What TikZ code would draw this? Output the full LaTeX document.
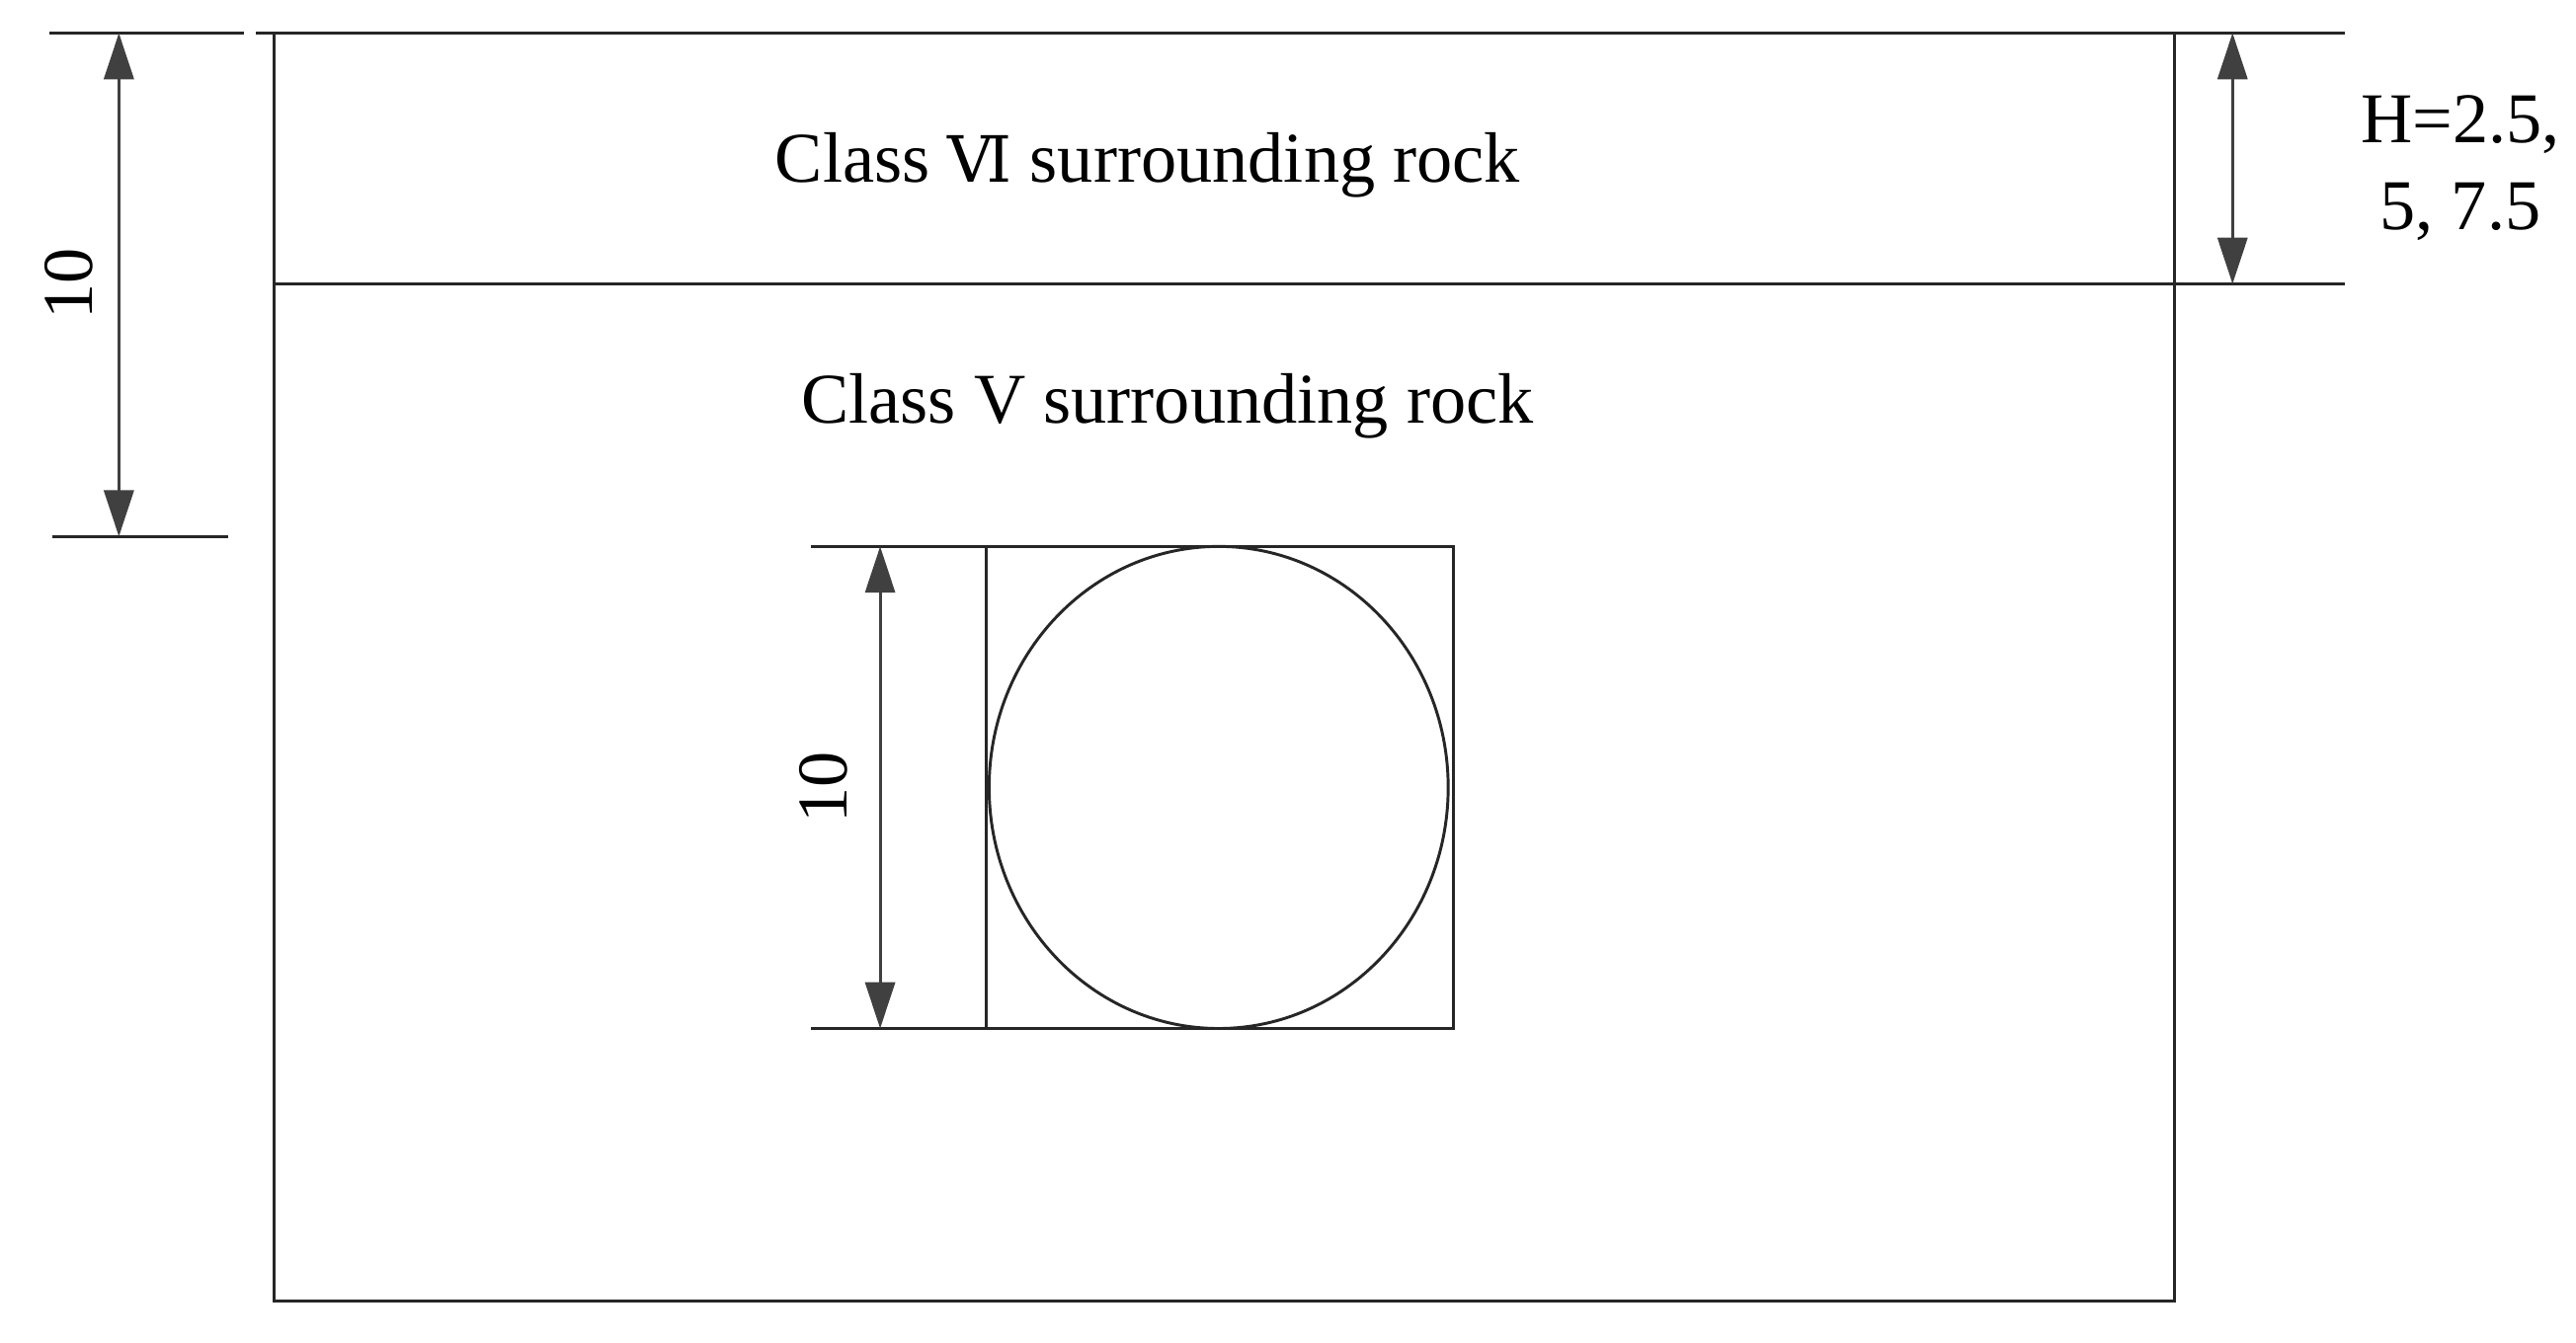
\documentclass[tikz,border=0pt]{standalone}
\usepackage{fontspec}
\setmainfont{Liberation Serif}
\newfontfamily\rmn{DejaVu Serif}
\usetikzlibrary{arrows.meta}
\begin{document}
\begin{tikzpicture}[x=0.01cm,y=-0.01cm,
  ln/.style={line width=0.5pt,draw=black!85},
  dim/.style={line width=0.5pt,draw=black!75,{Triangle[length=0.28cm,width=0.18cm,fill=black!75]}-{Triangle[length=0.28cm,width=0.18cm,fill=black!75]}},
  lab/.style={font=\fontsize{12.3}{15}\selectfont}]
\useasboundingbox (0,0) rectangle (1560,813);
\draw[ln] (166,20) rectangle (1317,788);
\draw[ln] (155,20) -- (1420,20);
\draw[ln] (166,172) -- (1420,172);
\draw[ln] (30,20) -- (148,20);
\draw[ln] (32,325) -- (138,325);
\coordinate (a1) at (72,20); \coordinate (a2) at (72,325);
\draw[dim] (a1) -- (a2);
\node[lab,rotate=90] (l1) at (42,172) {10};
\coordinate (b1) at (1352,20); \coordinate (b2) at (1352,172);
\draw[dim] (b1) -- (b2);
\node[lab,align=center] (h) at (1490,102) {H=2.5,\\5, 7.5};
\node[lab] (c6) at (695,100) {Class {\rmn\fontsize{11}{14}\selectfont Ⅵ} surrounding rock};
\node[lab] (c5) at (707,246) {Class V surrounding rock};
\draw[ln] (597,331) rectangle (880,623);
\draw[ln] (491,331) -- (597,331);
\draw[ln] (491,623) -- (597,623);
\draw[ln] (738,477) ellipse [x radius=139, y radius=146];
\coordinate (d1) at (533,331); \coordinate (d2) at (533,623);
\draw[dim] (d1) -- (d2);
\node[lab,rotate=90] (l2) at (499,477) {10};
\end{tikzpicture}
\end{document}
